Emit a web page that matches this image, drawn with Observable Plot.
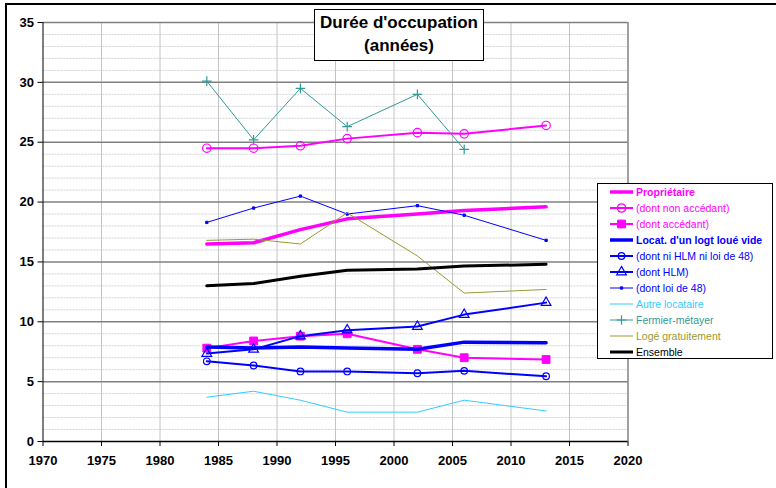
<!DOCTYPE html>
<html>
<head>
<meta charset="utf-8">
<script src="https://cdn.jsdelivr.net/npm/d3@7"></script>
<script src="https://cdn.jsdelivr.net/npm/@observablehq/plot@0.6"></script>
<style>
  html, body { margin: 0; padding: 0; background: #fff; }
  #wrap { position: relative; width: 776px; height: 488px; overflow: hidden; font-family: "Liberation Sans", Arial, sans-serif; }
  #frame { position: absolute; left: 5px; top: 3px; width: 800px; height: 520px; border: 2px solid #000; pointer-events: none; }
  #title { position: absolute; left: 314px; top: 9px; width: 168px; height: 49px; border: 1px solid #000; background: #fff;
           font-weight: bold; font-size: 17px; line-height: 23px; text-align: center; padding-top: 1px; box-sizing: content-box; }
  #legend { position: absolute; left: 597px; top: 183px; width: 174px; height: 174px; border: 1px solid #000; background: #fff; }
  .row { position: absolute; left: 12px; height: 16px; display: flex; align-items: center; font-size: 10.5px; white-space: nowrap; }
  .row svg { margin-right: 2px; }
</style>
</head>
<body>
<div id="wrap"></div>
<script>
// ---- data ----
const years = [1984, 1988, 1992, 1996, 2002, 2006, 2013];
const proprietaire   = [16.5, 16.6, 17.7, 18.6, 19.0, 19.3, 19.6];
const nonAccedant    = [24.5, 24.5, 24.7, 25.3, 25.8, 25.7, 26.4];
const accedant       = [7.8, 8.4, 8.8, 9.0, 7.7, 7.0, 6.85];
const locatVide      = [7.9, 7.8, 7.9, 7.8, 7.7, 8.3, 8.25];
const niHlmNiLoi48   = [6.7, 6.35, 5.85, 5.85, 5.7, 5.9, 5.45];
const hlm            = [7.35, 7.7, 8.8, 9.3, 9.6, 10.6, 11.6];
const loi48          = [18.3, 19.5, 20.5, 19.0, 19.7, 18.9, 16.8];
const autreLocataire = [3.7, 4.2, 3.45, 2.45, 2.45, 3.45, 2.55];
const fermier        = [30.1, 25.2, 29.5, 26.3, 29.0, 24.4, null];
const logeGratuit    = [16.8, 16.9, 16.5, 19.1, 15.5, 12.4, 12.7];
const ensemble       = [13.0, 13.2, 13.8, 14.3, 14.4, 14.65, 14.8];
const xTicks = [1970, 1975, 1980, 1985, 1990, 1995, 2000, 2005, 2010, 2015, 2020];
const yTicks = [0, 5, 10, 15, 20, 25, 30, 35];
const titleLines = ["Durée d'occupation", "(années)"];

// ---- styles ----
const series = [
  {name: "Propriétaire", values: proprietaire, color: "#FF00FF", width: 3.5, bold: true},
  {name: "(dont non accédant)", values: nonAccedant, color: "#FF00FF", width: 2, symbol: "circle", r: 4.2, hollow: true},
  {name: "(dont accédant)", values: accedant, color: "#FF00FF", width: 2, symbol: "square", r: 4.4},
  {name: "Locat. d'un logt loué vide", values: locatVide, color: "#0000FF", width: 3.5, bold: true},
  {name: "(dont ni HLM ni loi de 48)", values: niHlmNiLoi48, color: "#0000FF", width: 2, symbol: "circle", r: 3.3, hollow: true},
  {name: "(dont HLM)", values: hlm, color: "#0000FF", width: 2, symbol: "triangle", r: 3.6, hollow: true},
  {name: "(dont loi de 48)", values: loi48, color: "#0000FF", width: 1, symbol: "square", r: 1.3},
  {name: "Autre locataire", values: autreLocataire, color: "#33CCFF", width: 1},
  {name: "Fermier-métayer", values: fermier, color: "#339999", width: 1, symbol: "plus", r: 3.2, hollow: true},
  {name: "Logé gratuitement", values: logeGratuit, color: "#999933", width: 1},
  {name: "Ensemble", values: ensemble, color: "#000000", width: 3}
];
const symbolMap = {circle: d3.symbolCircle, square: d3.symbolSquare, triangle: d3.symbolTriangle, plus: d3.symbolPlus};

const rows = s => years.map((year, i) => ({year, value: s.values[i]})).filter(d => d.value != null);

const marks = [
  Plot.ruleY(d3.range(1, 35).filter(v => v % 5 !== 0), {stroke: "#d2d2d2", strokeWidth: 1, strokeDasharray: "2,1"}),
  Plot.ruleX(xTicks.filter(v => v !== 1970 && v !== 2020), {stroke: "#c4c4c4", strokeWidth: 1}),
  Plot.ruleY(yTicks.filter(v => v !== 0), {stroke: "#808080", strokeWidth: 1.5}),
  Plot.ruleX([2020], {stroke: "#808080", strokeWidth: 1.5}),
  Plot.ruleX([1970], {stroke: "#000"}),
  Plot.ruleY([0], {stroke: "#000", strokeWidth: 1.5}),
  Plot.axisY({ticks: yTicks, tickSize: 5, tickPadding: 4, tickFormat: d => String(d), label: null, fontWeight: "bold", fontSize: 13}),
  Plot.axisX({ticks: xTicks, tickSize: 5, tickPadding: 9, tickFormat: d => String(d), label: null, fontWeight: "bold", fontSize: 13})
];
for (const s of series) {
  marks.push(Plot.line(rows(s), {x: "year", y: "value", stroke: s.color, strokeWidth: s.width}));
  if (s.symbol) {
    marks.push(Plot.dot(rows(s), {x: "year", y: "value", symbol: s.symbol, r: s.r,
      stroke: s.color, strokeWidth: s.hollow ? 1.2 : 1, fill: s.hollow ? "none" : s.color}));
  }
}

const chart = Plot.plot({
  width: 776, height: 488,
  marginLeft: 42.5, marginRight: 148.5, marginTop: 22, marginBottom: 47,
  x: {domain: [1970, 2020]},
  y: {domain: [0, 35]},
  style: {fontFamily: "'Liberation Sans', Arial, sans-serif", background: "transparent", color: "#000"},
  marks
});
const wrap = document.getElementById("wrap");
chart.style.position = "absolute"; chart.style.left = "0"; chart.style.top = "0";
wrap.appendChild(chart);

// frame
const frame = document.createElement("div"); frame.id = "frame"; wrap.appendChild(frame);

// title
const title = document.createElement("div"); title.id = "title";
title.innerHTML = titleLines.join("<br>");
wrap.appendChild(title);

// legend
const legend = document.createElement("div"); legend.id = "legend";
const ns = "http://www.w3.org/2000/svg";
series.forEach((s, i) => {
  const row = document.createElement("div"); row.className = "row";
  row.style.top = (i * 16) + "px";
  const sw = document.createElementNS(ns, "svg");
  sw.setAttribute("width", 24); sw.setAttribute("height", 16);
  const ln = document.createElementNS(ns, "line");
  ln.setAttribute("x1", 0); ln.setAttribute("x2", 23); ln.setAttribute("y1", 8); ln.setAttribute("y2", 8);
  ln.setAttribute("stroke", s.color); ln.setAttribute("stroke-width", s.width);
  sw.appendChild(ln);
  if (s.symbol) {
    const p = document.createElementNS(ns, "path");
    p.setAttribute("d", d3.symbol(symbolMap[s.symbol], s.r * s.r * Math.PI)());
    p.setAttribute("transform", "translate(11.5,8)");
    p.setAttribute("stroke", s.color);
    p.setAttribute("stroke-width", s.hollow ? 1.2 : 1);
    p.setAttribute("fill", s.hollow ? "none" : s.color);
    sw.appendChild(p);
  }
  row.appendChild(sw);
  const t = document.createElement("span");
  t.textContent = s.name; t.style.color = s.color;
  if (s.bold) t.style.fontWeight = "bold";
  row.appendChild(t);
  legend.appendChild(row);
});
wrap.appendChild(legend);
</script>
</body>
</html>
